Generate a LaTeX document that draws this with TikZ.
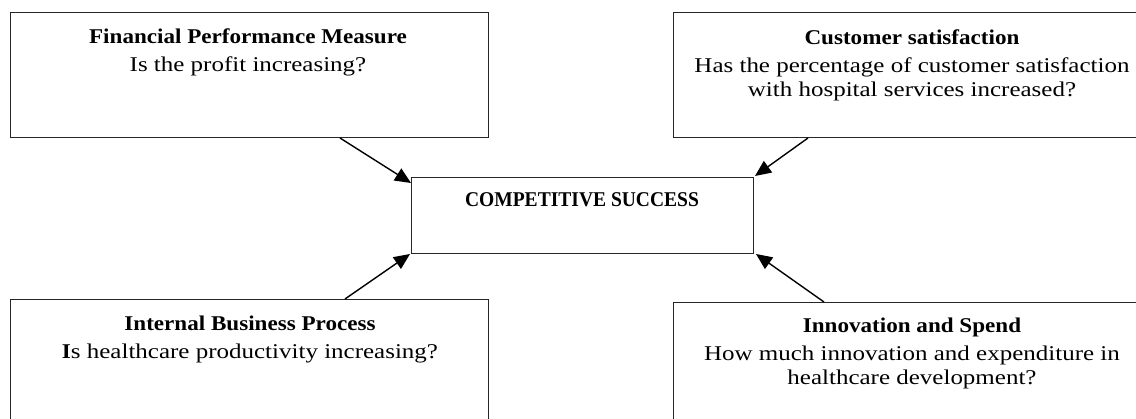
\documentclass[tikz,border=0pt]{standalone}
\usepackage{fontspec}
\setmainfont{Liberation Serif}[FakeStretch=1.19, BoldFeatures={FakeStretch=1.10}]
\newfontfamily\capsfont{Liberation Serif}[FakeStretch=0.93]
\usetikzlibrary{arrows.meta}
\begin{document}
\begin{tikzpicture}[x=1pt,y=-1pt,
  box/.style={draw=black!85, line width=1pt, rectangle, inner sep=0pt, anchor=north west},
  txt/.style={align=center, inner sep=0pt, anchor=north, font=\fontsize{21}{24}\selectfont},
  arr/.style={line width=1.4pt, -{Triangle[length=16pt,width=14pt]}}]
\useasboundingbox (0,0) rectangle (1136,419);
% boxes
\node[box, minimum width=478pt, minimum height=125pt] (fin) at (10,12) {};
\node[box, minimum width=478pt, minimum height=125pt] (cust) at (673,12) {};
\node[box, minimum width=342pt, minimum height=76pt] (ctr) at (411,177) {};
\node[box, minimum width=478pt, minimum height=125pt] (ibp) at (10,299) {};
\node[box, minimum width=478pt, minimum height=125pt] (inn) at (673,302) {};
% texts
\node[txt] (tfin) at (248,29) {\textbf{Financial Performance Measure}\\[4pt]Is the profit increasing?};
\node[txt] (tcust) at (912,30) {\textbf{Customer satisfaction}\\[4pt]Has the percentage of customer satisfaction\\with hospital services increased?};
\node[txt, font=\fontsize{21}{24}\selectfont\capsfont\bfseries] (tctr) at (582,192) {COMPETITIVE SUCCESS};
\node[txt] (tibp) at (250,316) {\textbf{Internal Business Process}\\[4pt]\textbf{I}s healthcare productivity increasing?};
\node[txt] (tinn) at (912,318) {\textbf{Innovation and Spend}\\[4pt]How much innovation and expenditure in\\healthcare development?};
% arrows
\draw[arr] ([xshift=330pt]fin.south west) -- ([yshift=-6pt]ctr.north west);
\draw[arr] ([xshift=135pt]cust.south west) -- ([xshift=1pt,yshift=1pt]ctr.north east);
\draw[arr] ([xshift=335pt]ibp.north west) -- ([xshift=-1pt]ctr.south west);
\draw[arr] ([xshift=151pt]inn.north west) -- ([xshift=2pt]ctr.south east);
\end{tikzpicture}
\end{document}
